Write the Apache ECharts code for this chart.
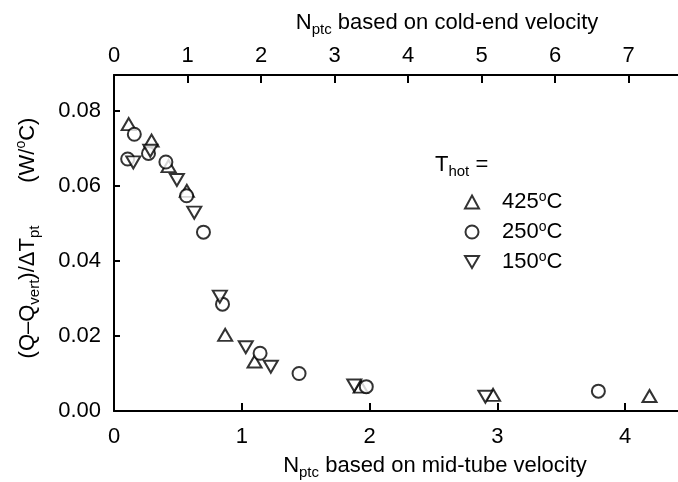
<!DOCTYPE html>
<html>
<head>
<meta charset="utf-8">
<script src="https://cdn.jsdelivr.net/npm/echarts@6/dist/echarts.min.js"></script>
<style>
  html, body { margin: 0; padding: 0; background: #fff; }
  #chart { width: 678px; height: 482px; }
</style>
</head>
<body>
<div id="chart"></div>
<script>
// values (x = N_ptc mid-tube, y = W/°C)
var x425 = [0.115, 0.294, 0.427, 0.57, 0.87, 1.10, 1.93, 2.966, 4.19];
var y425 = [0.0765, 0.0721, 0.0653, 0.0587, 0.0203, 0.0132, 0.0065, 0.0043, 0.0040];

var x250 = [0.159, 0.107, 0.27, 0.406, 0.568, 0.70, 0.849, 1.143, 1.448, 1.974, 3.79];
var y250 = [0.0738, 0.0672, 0.0687, 0.0664, 0.0574, 0.0477, 0.0285, 0.0154, 0.0100, 0.0065, 0.0053];

var x150 = [0.151, 0.284, 0.492, 0.628, 0.828, 1.031, 1.227, 1.88, 2.906];
var y150 = [0.0663, 0.0694, 0.0616, 0.0529, 0.0305, 0.0170, 0.0118, 0.0068, 0.0038];

var seriesNames = ['425°C', '250°C', '150°C'];

var font = "'Liberation Sans', Arial, sans-serif";
var ink = '#000';

function pairs(xs, ys) {
  var res = [];
  for (var i = 0; i < xs.length; i++) {
    res.push([xs[i], ys[i]]);
  }
  return res;
}

var downTri = 'path://M0,0 L14,0 L7,12 Z';

var subRich = {
  n: { fontSize: 22, fontFamily: font, color: ink, lineHeight: 28 },
  s: { fontSize: 15, fontFamily: font, color: ink, lineHeight: 14, verticalAlign: 'bottom' },
  o: { fontSize: 14, fontFamily: font, color: ink, lineHeight: 13, verticalAlign: 'top' }
};

function axisBase(tickLen, margin) {
  return {
    axisLine: { show: true, onZero: false, lineStyle: { color: ink, width: 2 } },
    axisTick: { show: true, inside: true, length: tickLen, lineStyle: { color: ink, width: 2 } },
    splitLine: { show: false },
    axisLabel: { color: ink, fontSize: 22, fontFamily: font, margin: margin, showMaxLabel: false }
  };
}

var xBottom = axisBase(8, 15);
xBottom.type = 'value';
xBottom.position = 'bottom';
xBottom.min = 0;
xBottom.max = 4.413;
xBottom.interval = 1;
xBottom.name = '{n|N}{s|ptc}{n| based on mid-tube velocity}';
xBottom.nameLocation = 'middle';
xBottom.nameGap = 41;
xBottom.nameTextStyle = { rich: subRich, padding: [0, 0, 0, 78] };

var xTop = axisBase(8, 8);
xTop.type = 'value';
xTop.position = 'top';
xTop.min = 0;
xTop.max = 7.67;
xTop.interval = 1;
xTop.name = '{n|N}{s|ptc}{n| based on cold-end velocity}';
xTop.nameLocation = 'middle';
xTop.nameGap = 38;
xTop.nameTextStyle = { rich: subRich, padding: [0, 0, 0, 102] };

var yLeft = axisBase(6, 13);
yLeft.type = 'value';
yLeft.min = 0;
yLeft.max = 0.0896;
yLeft.interval = 0.02;
yLeft.axisLabel.formatter = function (v) { return v.toFixed(2); };
yLeft.name = '{n|(Q\u2013Q}{s|vert}{n|)/\u0394T}{s|pt}{n|       (W/}{o|o}{n|C)}';
yLeft.nameLocation = 'middle';
yLeft.nameGap = 72;
yLeft.nameTextStyle = { rich: subRich, padding: [0, 0, 0, 10] };

var markerStyle = { color: '#fff', borderColor: ink, borderWidth: 2 };

var option = {
  animation: false,
  backgroundColor: '#fff',
  grid: { left: 114, right: 0, top: 75, bottom: 71, outerBoundsMode: 'none', containLabel: false },
  xAxis: [xBottom, xTop],
  yAxis: yLeft,
  legend: {
    orient: 'vertical',
    left: 459,
    top: 185,
    itemWidth: 14,
    itemHeight: 13,
    itemGap: 7,
    data: seriesNames,
    formatter: function (name) {
      var num = name.replace('°C', '');
      return '{f|' + num + '}{o|o}{t|C}';
    },
    textStyle: {
      rich: {
        f: { fontSize: 22, fontFamily: font, color: ink, lineHeight: 24, padding: [0, 0, 0, 18] },
        t: { fontSize: 22, fontFamily: font, color: ink, lineHeight: 24 },
        o: { fontSize: 14, fontFamily: font, color: ink, lineHeight: 13, verticalAlign: 'top' }
      }
    }
  },
  graphic: [{
    type: 'text',
    left: 435,
    top: 154,
    style: {
      text: '{n|T}{s|hot}{n| =}',
      rich: subRich
    }
  }],
  series: [
    {
      name: seriesNames[0],
      type: 'scatter',
      xAxisIndex: 0,
      symbol: 'triangle',
      symbolSize: [14, 12],
      itemStyle: markerStyle,
      data: pairs(x425, y425)
    },
    {
      name: seriesNames[1],
      type: 'scatter',
      xAxisIndex: 0,
      symbol: 'circle',
      symbolSize: 13,
      itemStyle: markerStyle,
      data: pairs(x250, y250)
    },
    {
      name: seriesNames[2],
      type: 'scatter',
      xAxisIndex: 0,
      symbol: downTri,
      symbolSize: [14, 12],
      itemStyle: markerStyle,
      data: pairs(x150, y150)
    }
  ]
};

var myChart = echarts.init(document.getElementById('chart'), null, { renderer: 'canvas' });
myChart.setOption(option);
</script>
</body>
</html>
